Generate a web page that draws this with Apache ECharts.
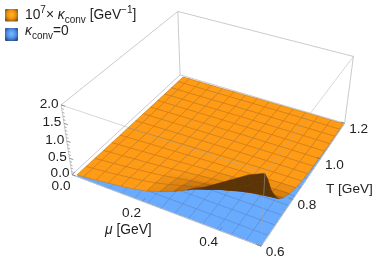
<!DOCTYPE html>
<html><head><meta charset="utf-8">
<style>html,body{margin:0;padding:0;background:#fff}#c{width:374px;height:260px}</style>
<script src="https://cdn.jsdelivr.net/npm/echarts@6/dist/echarts.min.js"></script>
</head><body><div id="c"></div>
<script>
// ---- data ----
const muValues=[0.015,0.0357,0.0714,0.1071,0.1429,0.1786,0.2143,0.25,0.2857,0.3214,0.3571,0.3929,0.4286,0.4643,0.5];
const tValues=[0.6,0.62,0.6429,0.66,0.6857,0.7,0.7286,0.7714,0.8143,0.8571,0.9,0.9429,0.9857,1.0286,1.0714,1.1143,1.1571,1.19];
const meshT=[0.6,0.6429,0.6857,0.7286,0.7714,0.8143,0.8571,0.9,0.9429,0.9857,1.0286,1.0714,1.1143,1.1571,1.19];
// kappa along T, one list per mu column
const kMu015=[.05,.05,.05,.045,.045,.045,.04,.04,.035,.035,.03,.03,.025,.025,.02,.02,.02,.015];
const kMu036=[.08,.075,.07,.07,.065,.065,.06,.055,.05,.045,.04,.035,.03,.025,.025,.02,.02,.02];
const kMu071=[.12,.115,.11,.105,.10,.095,.085,.075,.065,.055,.05,.04,.035,.03,.03,.025,.02,.02];
const kMu107=[.17,.165,.16,.15,.14,.13,.12,.10,.085,.07,.06,.05,.045,.035,.03,.025,.02,.02];
const kMu143=[.22,.215,.205,.195,.18,.17,.15,.125,.10,.085,.07,.06,.05,.04,.035,.03,.025,.02];
const kMu179=[.28,.27,.26,.245,.225,.21,.185,.15,.12,.095,.08,.065,.055,.045,.04,.035,.03,.025];
const kMu214=[.37,.355,.335,.31,.28,.26,.225,.175,.135,.11,.09,.075,.06,.05,.045,.04,.03,.025];
const kMu250=[.50,.47,.43,.395,.345,.315,.27,.205,.155,.125,.10,.08,.065,.055,.05,.04,.035,.03];
const kMu286=[.65,.605,.54,.485,.41,.37,.31,.23,.175,.135,.11,.09,.075,.06,.05,.045,.035,.03];
const kMu321=[.84,.74,.64,.565,.47,.42,.35,.255,.19,.15,.115,.095,.08,.065,.055,.045,.04,.03];
const kMu357=[1.05,.87,.74,.65,.53,.47,.385,.28,.205,.16,.125,.10,.08,.07,.055,.045,.04,.03];
const kMu393=[1.30,1.03,.86,.74,.60,.525,.42,.30,.22,.17,.13,.105,.085,.07,.06,.05,.04,.035];
const kMu429=[1.56,1.22,1.00,.85,.67,.58,.455,.325,.235,.175,.135,.11,.09,.07,.06,.05,.04,.035];
const kMu464=[1.82,1.45,1.15,.97,.74,.63,.49,.345,.25,.185,.14,.11,.09,.07,.06,.05,.04,.035];
const kMu500=[2.0,1.72,1.30,1.08,.80,.68,.52,.36,.26,.19,.145,.115,.09,.07,.06,.05,.04,.035];
const kappaCols=[kMu015,kMu036,kMu071,kMu107,kMu143,kMu179,kMu214,kMu250,kMu286,kMu321,kMu357,kMu393,kMu429,kMu464,kMu500];
const muLabels=[0,0.2,0.4];
const muMinor=[0.05,0.1,0.15,0.25,0.3,0.35,0.45,0.5];
const tLabels=[0.6,0.8,1.0,1.2];
const tMinor=[0.65,0.7,0.75,0.85,0.9,0.95,1.05,1.1,1.15];
const kLabels=[0,0.5,1,1.5,2];
const kMinor=[.1,.2,.3,.4,.6,.7,.8,.9,1.1,1.2,1.3,1.4,1.6,1.7,1.8,1.9];

// ---- camera: fitted to where the box corners appear ----
const FONT='"Liberation Sans",Arial,sans-serif';
const camera=[[0,0,0,72,174],[1,0,0,262,247],[1,1,0,344,123],[0,1,0,180,75],
              [0,0,1,61,106],[1,0,1,264,172],[1,1,1,354,57],[0,1,1,178,11]];
function solve(A,b){const n=b.length;const M=A.map((r,i)=>r.concat(b[i]));
  for(let i=0;i<n;i++){let p=i;for(let j=i+1;j<n;j++)if(Math.abs(M[j][i])>Math.abs(M[p][i]))p=j;
    [M[i],M[p]]=[M[p],M[i]];
    for(let j=0;j<n;j++){if(j===i)continue;const f=M[j][i]/M[i][i];for(let k=i;k<=n;k++)M[j][k]-=f*M[i][k];}}
  return M.map((r,i)=>r[n]/r[i]);}
const P=(function(){const rows=[],rhs=[];
  camera.forEach(([u,v,w,x,y])=>{
    rows.push([1,u,v,w,0,0,0,0,-x*u,-x*v,-x*w]);rhs.push(x);
    rows.push([0,0,0,0,1,u,v,w,-y*u,-y*v,-y*w]);rhs.push(y);});
  const n=11,A=[],b=[];
  for(let i=0;i<n;i++){A.push([]);let s=0;
    for(let j=0;j<n;j++){let t=0;rows.forEach(r=>t+=r[i]*r[j]);A[i].push(t);}
    rows.forEach((r,k)=>s+=r[i]*rhs[k]);b.push(s);}
  return solve(A,b);})();
function projUVW(u,v,w){const d=1+P[8]*u+P[9]*v+P[10]*w;
  return [(P[0]+P[1]*u+P[2]*v+P[3]*w)/d,(P[4]+P[5]*u+P[6]*v+P[7]*w)/d];}
const U=m=>m/0.5, V=t=>(t-0.6)/0.6, W=k=>k/2;
const proj=(m,t,k)=>projUVW(U(m),V(t),W(k));

const BOX='#bdbdbd', MESH='rgba(110,65,30,0.30)', TEXT='#222';
const isMesh=t=>meshT.indexOf(t)>=0;
function poly(api,pts,fill){return {type:'polygon',shape:{points:pts.map(p=>api.coord(p))},
  style:{fill:fill,stroke:fill,lineWidth:0.5}};}
function seg(api,a,b,color,w){const A=api.coord(a),B=api.coord(b);
  return {type:'line',shape:{x1:A[0],y1:A[1],x2:B[0],y2:B[1]},style:{stroke:color,lineWidth:w,fill:null}};}

// painter's order: far (high T, low mu) first
const cells=[];
for(let r=tValues.length-2;r>=0;r--)for(let c=0;c<muValues.length-1;c++)cells.push([c,r]);
const baseCells=[];
for(let r=meshT.length-2;r>=0;r--)for(let c=0;c<muValues.length-1;c++)baseCells.push([c,r]);

const view=[0.2,-0.463,1];
const kAt=(c,r)=>kappaCols[Math.max(0,Math.min(c,kappaCols.length-1))][Math.max(0,Math.min(r,tValues.length-1))];
function shade(c,r){
  const c0=Math.max(0,c-1),c1=Math.min(muValues.length-1,c+2),r0=Math.max(0,r-1),r1=Math.min(tValues.length-1,r+2);
  const du=U(muValues[c1])-U(muValues[c0]),dv=V(tValues[r1])-V(tValues[r0]);
  const wu=W((kAt(c1,r)+kAt(c1,r+1)-kAt(c0,r)-kAt(c0,r+1))/2)/du;
  const wv=W((kAt(c,r1)+kAt(c+1,r1)-kAt(c,r0)-kAt(c+1,r0))/2)/dv;
  const len=Math.sqrt(wu*wu+wv*wv+1);
  return (-wu*view[0]-wv*view[1]+view[2])/len/view[2];
}
function surfaceItem(params,api){
  const [c,r]=cells[params.dataIndex];
  const T0=tValues[r],T1=tValues[r+1],m0=muValues[c],m1=muValues[c+1];
  const a=proj(m0,T0,kAt(c,r)),b=proj(m1,T0,kAt(c+1,r)),
        d=proj(m1,T1,kAt(c+1,r+1)),e=proj(m0,T1,kAt(c,r+1));
  const area=((b[0]-a[0])*(d[1]-a[1])-(d[0]-a[0])*(b[1]-a[1]))+((d[0]-a[0])*(e[1]-a[1])-(e[0]-a[0])*(d[1]-a[1]));
  const base=proj(m0,T0,0),bb=proj(m1,T0,0),bd=proj(m1,T1,0);
  const sign=((bb[0]-base[0])*(bd[1]-base[1])-(bd[0]-base[0])*(bb[1]-base[1]));
  const under=area*sign<=0;
  let fill;
  if(under){fill='#5b3408';}
  else{
    const s=Math.pow(Math.max(0,Math.min(1,shade(c,r)*1.5)),0.7);
    const mix=(p,q)=>Math.round(p+(q-p)*s);
    fill='rgb('+mix(160,255)+','+mix(82,155)+','+mix(0,20)+')';
  }
  const kids=[poly(api,[a,b,d,e],fill)];
  if(!under){
    if(isMesh(T0))kids.push(seg(api,a,b,MESH,0.7));
    if(isMesh(T1))kids.push(seg(api,e,d,MESH,0.7));
    kids.push(seg(api,a,e,MESH,0.7));
    kids.push(seg(api,b,d,MESH,0.7));
  }
  return {type:'group',children:kids};
}
function baseItem(params,api){
  const [c,r]=baseCells[params.dataIndex];
  const a=proj(muValues[c],meshT[r],0),b=proj(muValues[c+1],meshT[r],0),
        d=proj(muValues[c+1],meshT[r+1],0),e=proj(muValues[c],meshT[r+1],0);
  const L='rgba(50,70,110,0.28)';
  return {type:'group',children:[poly(api,[a,b,d,e],'#68abff'),
    seg(api,a,b,L,0.7),seg(api,b,d,L,0.7),seg(api,d,e,L,0.7),seg(api,e,a,L,0.7)]};
}
const c3=(u,v,w)=>projUVW(u,v,w);
const backEdges=[[[0,1,0],[0,1,1]],[[0,0,1],[0,1,1]],[[0,1,1],[1,1,1]],[[1,1,0],[1,1,1]],[[0,0,0],[0,0,1]],[[0,0,0],[0,1,0]],[[0,1,0],[1,1,0]]];
const frontEdges=[[[0,0,1],[1,0,1]],[[1,0,1],[1,1,1]],[[1,0,0],[1,0,1]]];
const axisEdges=[[[0,0,0],[1,0,0]],[[1,0,0],[1,1,0]]];
function edgeItemBack(params,api){const e=backEdges[params.dataIndex];
  return seg(api,c3(...e[0]),c3(...e[1]),BOX,0.8);}
function edgeItemFront(params,api){const i=params.dataIndex;
  if(i<frontEdges.length){const e=frontEdges[i];return seg(api,c3(...e[0]),c3(...e[1]),'rgba(170,170,170,0.6)',0.8);}
  const e=axisEdges[i-frontEdges.length];return seg(api,c3(...e[0]),c3(...e[1]),'#c4c4c4',1);}

const ticks=[];
muLabels.forEach(m=>ticks.push(['mu',m,0.022,'#777']));
muMinor.forEach(m=>ticks.push(['mu',m,0.012,'#999']));
tLabels.forEach(t=>ticks.push(['t',t,0.022,'#777']));
tMinor.forEach(t=>ticks.push(['t',t,0.012,'#999']));
kLabels.forEach(k=>ticks.push(['k',k,0.022,'#777']));
kMinor.forEach(k=>ticks.push(['k',k,0.012,'#999']));
function tickItem(params,api){const [ax,val,len,col]=ticks[params.dataIndex];
  if(ax==='mu')return seg(api,c3(U(val),0,0),c3(U(val),len,0),col,0.8);
  if(ax==='t')return seg(api,c3(1,V(val),0),c3(1-len,V(val),0),col,0.8);
  return seg(api,c3(0,0,W(val)),c3(len,0,W(val)),col,0.8);}

const labels=[];
muLabels.forEach(m=>labels.push([proj(m,0.6,0),m.toFixed(1),-11,12]));
tLabels.forEach(t=>labels.push([proj(0.5,t,0),t.toFixed(1),14,6]));
kLabels.forEach(k=>labels.push([proj(0,0.6,k),k.toFixed(1),-12,-1]));
function labelItem(params,api){const [p,txt,dx,dy]=labels[params.dataIndex];
  const q=api.coord(p);
  return {type:'text',style:{text:txt,x:q[0]+dx,y:q[1]+dy,align:'center',verticalAlign:'middle',
    font:'13.6px '+FONT,fill:TEXT}};}

const flat=a=>a.map((_,i)=>i);
const mk=(id,arr,fn,z)=>({type:'custom',id:id,coordinateSystem:'cartesian2d',data:flat(arr),renderItem:fn,
  encode:{x:[],y:[]},silent:true,animation:false,clip:false,z:z});
const rg=(a,b,c)=>new echarts.graphic.RadialGradient(0.5,0.45,0.62,[{offset:0,color:a},{offset:0.55,color:b},{offset:1,color:c}]);
const richL={
  n:{fontSize:13.8,fontFamily:FONT,fill:TEXT,lineHeight:20},
  sup:{fontSize:10,fontFamily:FONT,fill:TEXT,verticalAlign:'top',lineHeight:12},
  k:{fontSize:13.8,fontFamily:FONT,fontStyle:'italic',fill:TEXT,lineHeight:20},
  sub:{fontSize:10,fontFamily:FONT,fill:TEXT,verticalAlign:'bottom',lineHeight:12}
};
const option={
  animation:false,backgroundColor:'#fff',
  grid:{left:0,right:0,top:0,bottom:0},
  xAxis:{type:'value',min:0,max:374,show:false},
  yAxis:{type:'value',min:0,max:260,inverse:true,show:false},
  series:[
    mk('back',backEdges,edgeItemBack,1),
    mk('base',baseCells,baseItem,2),
    mk('surface',cells,surfaceItem,3),
    mk('front',frontEdges.concat(axisEdges),edgeItemFront,4),
    mk('ticks',ticks,tickItem,5),
    mk('labels',labels,labelItem,6)
  ],
  graphic:[
    {type:'rect',left:5,top:9,shape:{width:13,height:12.5,r:1},z:10,
      style:{fill:rg('#ffb81e','#f09010','#7a5a20')}},
    {type:'rect',left:5,top:28,shape:{width:13,height:13,r:1},z:10,
      style:{fill:rg('#78bcff','#4f8ee6','#2c4a80')}},
    {type:'text',left:25,top:5,z:10,style:{
      text:'{n|10}{sup|7}{n|× }{k|κ}{sub|conv}{n| [GeV}{sup|−1}{n|]}',rich:richL}},
    {type:'text',left:25,top:24,z:10,style:{
      text:'{k|κ}{sub|conv}{n|=0}',rich:richL}},
    {type:'text',left:105,top:223,z:10,style:{text:'{k|μ}{n| [GeV]}',rich:richL}},
    {type:'text',left:326,top:182,z:10,style:{text:'T [GeV]',font:'13.6px '+FONT,fill:TEXT}}
  ]
};
const chart=echarts.init(document.getElementById('c'),null,{renderer:'canvas'});
chart.setOption(option);
</script></body></html>
